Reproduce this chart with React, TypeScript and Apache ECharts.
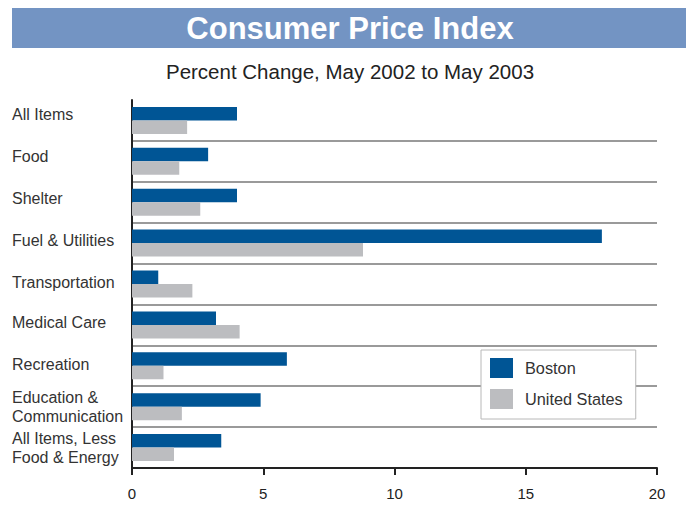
import React, { useEffect, useRef } from "react";
import * as echarts from "echarts";

const categories = [
  "All Items",
  "Food",
  "Shelter",
  "Fuel & Utilities",
  "Transportation",
  "Medical Care",
  "Recreation",
  "Education &\nCommunication",
  "All Items, Less\nFood & Energy",
];
const bostonValues = [4.0, 2.9, 4.0, 17.9, 1.0, 3.2, 5.9, 4.9, 3.4];
const usValues = [2.1, 1.8, 2.6, 8.8, 2.3, 4.1, 1.2, 1.9, 1.6];
const seriesNames = ["Boston", "United States"];
const xTicks = { min: 0, max: 20, interval: 5 };
const titleText = "Consumer Price Index";
const subtitleText = "Percent Change, May 2002 to May 2003";

const FONT = "'Liberation Sans', Arial, Helvetica, sans-serif";
// upward nudge (px) of each single-line category label
const labelLift = [6, 5, 4, 3, 2, 2, 1, 0, 0];

export default function App() {
  const ref = useRef<HTMLDivElement>(null);
  useEffect(() => {
    if (!ref.current) return;
    const chart = echarts.init(ref.current, null, { renderer: "svg" });
    const sepColors = categories.map(() => "#9a9a9a");
    sepColors.unshift("rgba(0,0,0,0)");
    const rich: Record<string, any> = {};
    labelLift.forEach((d, i) => {
      rich["l" + i] = {
        fontFamily: FONT,
        fontSize: 16,
        color: "#333333",
        padding: [0, 0, d * 2, 0],
      };
    });
    chart.setOption({
      animation: false,
      backgroundColor: "#ffffff",
      textStyle: { fontFamily: FONT },
      graphic: [
        {
          type: "rect",
          left: 12,
          top: 8,
          shape: { width: 674, height: 40 },
          style: { fill: "#7394c3" },
          silent: true,
        },
        {
          type: "text",
          x: 350,
          y: 28,
          style: {
            text: titleText,
            fill: "#ffffff",
            font: `bold 31px ${FONT}`,
            textAlign: "center",
            textVerticalAlign: "middle",
          },
        },
        {
          type: "text",
          x: 350,
          y: 71,
          style: {
            text: subtitleText,
            fill: "#222222",
            font: `20.5px ${FONT}`,
            textAlign: "center",
            textVerticalAlign: "middle",
          },
        },
      ],
      legend: {
        orient: "vertical",
        left: 481,
        top: 350,
        backgroundColor: "#ffffff",
        borderColor: "#b8b8b8",
        borderWidth: 1,
        borderRadius: 0,
        padding: [8, 13, 10, 9],
        itemWidth: 23,
        itemHeight: 20,
        itemGap: 11,
        icon: "rect",
        data: seriesNames,
        textStyle: {
          fontFamily: FONT,
          fontSize: 16.3,
          color: "#333333",
          padding: [0, 0, 0, 7],
        },
        z: 10,
      },
      grid: { left: 132, right: 38, top: 100, bottom: 38, containLabel: false },
      xAxis: {
        type: "value",
        min: xTicks.min,
        max: xTicks.max,
        interval: xTicks.interval,
        axisLine: { show: true, lineStyle: { color: "#222222", width: 2 } },
        axisTick: { show: true, length: 7, inside: false, lineStyle: { color: "#222222", width: 2 } },
        axisLabel: { color: "#222222", fontSize: 15, margin: 18, fontFamily: FONT },
        splitLine: { show: false },
      },
      yAxis: {
        type: "category",
        data: categories,
        inverse: true,
        axisLine: { show: true, lineStyle: { color: "#222222", width: 2 } },
        axisTick: { show: false },
        axisLabel: {
          align: "left",
          margin: 120,
          color: "#333333",
          fontSize: 16,
          lineHeight: 19,
          fontFamily: FONT,
          rich,
          formatter: (value: string, index: number) =>
            value.indexOf("\n") >= 0 ? value : `{l${index}|${value}}`,
        },
        splitLine: {
          show: true,
          lineStyle: { color: sepColors, width: 2 },
        },
      },
      series: [
        {
          name: seriesNames[0],
          type: "bar",
          data: bostonValues,
          barWidth: 13.5,
          barGap: "0%",
          itemStyle: { color: "#005595" },
        },
        {
          name: seriesNames[1],
          type: "bar",
          data: usValues,
          barWidth: 13.5,
          barGap: "0%",
          itemStyle: { color: "#bcbdc0" },
        },
      ],
    });
    return () => chart.dispose();
  }, []);
  return <div ref={ref} style={{ width: 695, height: 506, position: "absolute", left: 0, top: 0 }} />;
}
